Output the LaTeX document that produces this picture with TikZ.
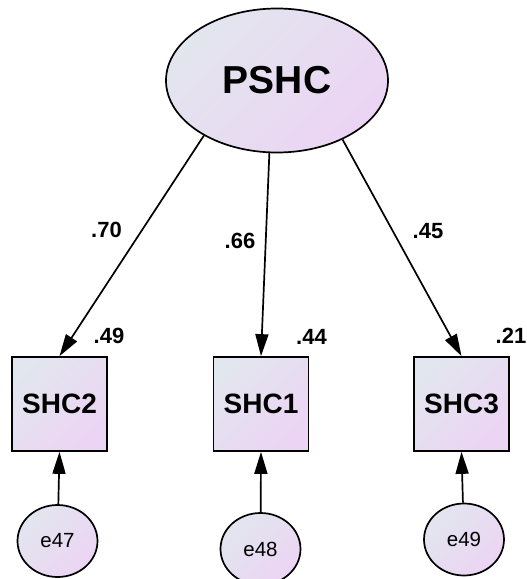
\documentclass[tikz,border=0pt]{standalone}
\usepackage{fontspec}
\setmainfont{Liberation Sans}
\usetikzlibrary{shapes.geometric,arrows.meta}
\definecolor{fillA}{RGB}{226,230,238}
\definecolor{fillB}{RGB}{236,212,244}
\begin{document}
\begin{tikzpicture}[x=1pt,y=-1pt,
  shaded/.style={draw=black,line width=1.7pt,top color=fillA,bottom color=fillB,shading angle=45},
  latent/.style={shaded,ellipse,inner sep=0pt,minimum width=222pt,minimum height=144pt,
    font=\bfseries\fontsize{39}{39}\selectfont},
  observed/.style={shaded,rectangle,inner sep=0pt,minimum width=95pt,minimum height=94pt,
    font=\bfseries\fontsize{28}{28}\selectfont},
  errvar/.style={shaded,ellipse,inner sep=0pt,minimum width=80pt,minimum height=72pt,
    font=\fontsize{20.5}{20.5}\selectfont},
  coef/.style={inner sep=0pt,font=\bfseries\fontsize{22}{22}\selectfont},
  loading/.style={line width=1.7pt,-{Triangle[length=22pt,width=13pt]}}]
\useasboundingbox (0,0) rectangle (527,579);

% latent factor
\node[latent] (P) at (277,80.5) {PSHC};

% indicators
\node[observed] (S2) at (59.5,404) {SHC2};
\node[observed] (S1) at (261,404) {SHC1};
\node[observed] (S3) at (461.5,404) {SHC3};

% error terms
\node[errvar] (e47) at (57.5,541) {e47};
\node[errvar] (e48) at (260.5,549) {e48};
\node[errvar] (e49) at (464,539.5) {e49};

% factor loadings
\draw[loading] (P.217) -- (S2.north);
\draw[loading] (P.264.5) -- (S1.north);
\draw[loading] (P.318.8) -- (S3.north);

% error paths
\draw[loading] (e47) -- (S2.south);
\draw[loading] (e48) -- (S1.south);
\draw[loading] (e49) -- (S3.south);

% standardized estimates
\node[coef] (l2) at (106.5,230) {.70};
\node[coef] (l1) at (240,241) {.66};
\node[coef] (l3) at (428,231.5) {.45};
\node[coef] (r2) at (109,336) {.49};
\node[coef] (r1) at (311.5,336.5) {.44};
\node[coef] (r3) at (511,336) {.21};
\end{tikzpicture}
\end{document}
